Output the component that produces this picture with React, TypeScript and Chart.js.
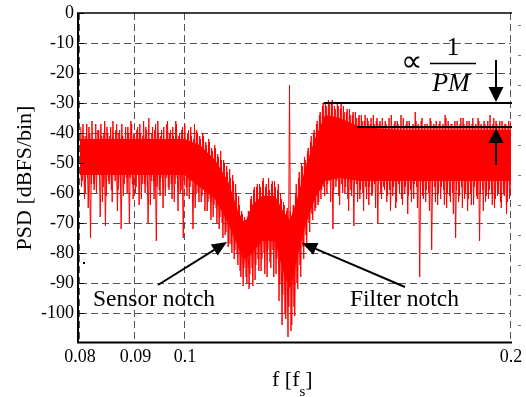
import React, { useEffect, useRef } from "react";
import { Chart, registerables } from "chart.js";

Chart.register(...registerables);

// Axis ranges and ticks
const F_MIN = 0.08;
const F_MAX = 0.2;
const DB_MIN = -110;
const DB_MAX = 0;
const xTicks = [0.08, 0.09, 0.1, 0.2];
const xTickLabels = ["0.08", "0.09", "0.1", "0.2"];
const yTicks = [0, -10, -20, -30, -40, -50, -60, -70, -80, -90, -100];

// Annotation levels
const peakLevel = -30;
const floorLevel = -38;
const peakStartF = 0.1343;
const floorStartF = 0.1441;

// PSD trace A: upper excursions (at bins) and lower excursions (between bins), dBFS/bin
const psdHigh = [
  -40, -37, -41, -38, -36, -42, -39, -37, -40, -38,
  -41, -36, -39, -40, -37, -42, -38, -36, -40, -39,
  -37, -41, -38, -35, -40, -39, -36, -41, -38, -37,
  -40, -38, -36, -41, -39, -37, -40, -38, -42, -39,
  -41, -40, -43, -42, -45, -44, -47, -46, -49, -51,
  -52, -54, -57, -61, -66, -68, -70, -62, -59, -58,
  -57, -56, -58, -55, -57, -56, -59, -60, -63, -66,
  -24, -68, -60, -55, -50, -48, -46, -43, -40, -37,
  -34, -31, -30, -29, -30, -31, -30, -32, -31, -33,
  -32, -34, -33, -35, -34, -36, -35, -37, -34, -36,
  -37, -35, -36, -38, -34, -37, -36, -38, -35, -37,
  -36, -38, -33, -37, -36, -38, -37, -35, -38, -36,
  -37, -38, -34, -36, -37, -38, -36, -37, -35, -38,
  -36, -37, -38, -35, -37, -36, -38, -34, -37, -36,
  -38, -36, -37, -38, -36,
];
const psdLow = [
  -58, -62, -55, -75, -57, -60, -54, -63, -71, -56,
  -59, -53, -66, -58, -61, -55, -70, -57, -60, -54,
  -62, -57, -58, -64, -56, -76, -59, -55, -61, -58,
  -57, -63, -55, -60, -75, -58, -62, -56, -65, -60,
  -63, -59, -66, -62, -68, -65, -72, -70, -74, -78,
  -77, -82, -80, -86, -91, -88, -92, -85, -89, -82,
  -86, -80, -88, -83, -79, -87, -96, -104, -100, -108,
  -106, -98, -90, -84, -78, -74, -70, -67, -66, -64,
  -62, -58, -60, -56, -72, -58, -61, -57, -60, -62,
  -59, -71, -57, -62, -60, -58, -64, -61, -57, -70,
  -60, -58, -63, -59, -61, -65, -57, -62, -60, -67,
  -59, -62, -58, -88, -61, -63, -60, -79, -58, -64,
  -62, -59, -65, -61, -60, -75, -63, -58, -62, -66,
  -60, -64, -61, -76, -59, -63, -62, -60, -65, -61,
  -63, -60, -67, -62,
];

// PSD trace B: the interleaved bins (quarter-bin offset)
const psdHigh2 = [
  -38, -41, -37, -40, -42, -37, -39, -41, -36, -40,
  -38, -42, -37, -39, -41, -38, -40, -37, -41, -38,
  -40, -36, -39, -42, -38, -37, -40, -39, -42, -36,
  -39, -41, -37, -40, -38, -42, -39, -41, -37, -40,
  -42, -41, -44, -43, -46, -45, -48, -49, -50, -53,
  -55, -56, -60, -64, -67, -69, -66, -61, -58, -57,
  -58, -55, -57, -59, -56, -58, -57, -62, -64, -65,
  -66, -64, -57, -53, -51, -49, -45, -41, -39, -36,
  -33, -30, -31, -30, -29, -32, -31, -30, -33, -32,
  -34, -33, -35, -34, -36, -34, -36, -35, -37, -35,
  -36, -38, -37, -35, -38, -36, -37, -34, -38, -36,
  -38, -37, -36, -38, -35, -37, -38, -36, -37, -38,
  -36, -37, -35, -38, -37, -36, -38, -35, -37, -36,
  -38, -35, -37, -36, -38, -37, -36, -38, -35, -37,
  -36, -38, -37, -36,
];
const psdLow2 = [
  -56, -60, -65, -57, -59, -54, -68, -58, -61, -57,
  -63, -56, -59, -72, -57, -60, -55, -62, -58, -64,
  -57, -60, -70, -56, -62, -58, -61, -65, -55, -59,
  -62, -57, -66, -59, -56, -61, -58, -72, -60, -63,
  -61, -66, -63, -69, -64, -70, -68, -75, -73, -77,
  -80, -79, -84, -88, -85, -90, -87, -91, -84, -86,
  -82, -87, -79, -85, -88, -82, -90, -94, -102, -98,
  -104, -101, -92, -88, -82, -77, -73, -69, -65, -63,
  -59, -61, -57, -63, -59, -56, -64, -60, -58, -66,
  -61, -57, -63, -59, -66, -62, -58, -60, -65, -57,
  -62, -59, -61, -66, -58, -63, -60, -64, -58, -61,
  -63, -57, -65, -60, -62, -59, -66, -61, -63, -60,
  -58, -64, -60, -63, -67, -59, -61, -65, -60, -62,
  -64, -58, -62, -60, -66, -61, -59, -64, -62, -60,
  -65, -61, -63, -60,
];

// Dense core of the noise band (where the trace is solid red)
const coreFreq = [
  0.08, 0.089, 0.0999, 0.1032, 0.1066, 0.1096, 0.1119, 0.1136, 0.1153, 0.1178,
  0.1211, 0.1232, 0.125, 0.1269, 0.1291, 0.1318, 0.1347, 0.139, 0.1451, 0.158,
  0.1757, 0.2,
];
const coreTop = [
  -42, -42, -42, -44, -49, -56, -66, -70, -64, -61,
  -61, -66, -69, -62, -52, -42, -34, -35, -38, -39,
  -39, -39,
];
const coreBottom = [
  -54, -54, -54, -58, -62, -70, -78, -82, -80, -76,
  -76, -86, -92, -82, -71, -62, -56, -55, -56, -56,
  -56, -56,
];

const SERIF = '"Liberation Serif", "Times New Roman", serif';
const RED = "#ff0000";

function binFreq(i: number, n: number) {
  return F_MIN * Math.pow(F_MAX / F_MIN, i / (n - 1));
}

function buildTrace(high: number[], low: number[], offset: number, n: number) {
  const pts: { x: number; y: number }[] = [];
  for (let i = 0; i < high.length; i++) {
    pts.push({ x: binFreq(i + offset, n), y: high[i] });
    if (i < low.length) {
      pts.push({ x: binFreq(i + offset + 0.5, n), y: low[i] });
    }
  }
  return pts;
}

function seg(ctx: CanvasRenderingContext2D, x1: number, y1: number, x2: number, y2: number) {
  ctx.beginPath();
  ctx.moveTo(x1, y1);
  ctx.lineTo(x2, y2);
  ctx.stroke();
}

function arrow(ctx: CanvasRenderingContext2D, x1: number, y1: number, x2: number, y2: number, len: number, hw: number) {
  const ang = Math.atan2(y2 - y1, x2 - x1);
  const c = Math.cos(ang);
  const s = Math.sin(ang);
  const bx = x2 - len * c;
  const by = y2 - len * s;
  ctx.lineWidth = 2;
  seg(ctx, x1, y1, bx, by);
  ctx.beginPath();
  ctx.moveTo(x2, y2);
  ctx.lineTo(bx + hw * s, by - hw * c);
  ctx.lineTo(bx - hw * s, by + hw * c);
  ctx.closePath();
  ctx.fill();
}

const overlayPlugin = {
  id: "overlay",
  beforeDatasetsDraw(chart: any) {
    const { ctx, chartArea: a, scales } = chart;
    const x = scales.x;
    const y = scales.y;
    ctx.save();
    ctx.strokeStyle = "#555";
    ctx.lineWidth = 1;
    ctx.setLineDash([7, 4]);
    for (const v of yTicks) {
      if (v === 0) continue;
      const py = Math.round(y.getPixelForValue(v)) + 0.5;
      seg(ctx, a.left, py, a.right, py);
    }
    for (const f of xTicks) {
      const px = Math.round(x.getPixelForValue(f)) - 0.5;
      seg(ctx, px, a.top, px, a.bottom);
    }
    ctx.restore();
  },
  afterDatasetsDraw(chart: any) {
    const { ctx, chartArea: a, scales } = chart;
    const x = scales.x;
    const y = scales.y;
    ctx.save();
    ctx.setLineDash([]);
    ctx.strokeStyle = "#000";
    ctx.fillStyle = "#000";

    // frame: left + bottom axes, top border
    ctx.lineWidth = 2;
    seg(ctx, a.left - 2, a.top, a.left - 2, a.bottom);
    seg(ctx, a.left - 3, a.bottom - 0.5, a.right + 1, a.bottom - 0.5);
    ctx.lineWidth = 1.5;
    seg(ctx, a.left - 3, a.top, a.right + 1, a.top);

    // small ticks
    ctx.lineWidth = 1;
    for (const v of yTicks) {
      const py = Math.round(y.getPixelForValue(v)) + 0.5;
      seg(ctx, a.left - 1, py, a.left + 4, py);
    }
    ctx.strokeStyle = "#777";
    for (const v of yTicks) {
      const py = Math.round(y.getPixelForValue(v - 4)) + 0.5;
      seg(ctx, a.right + 7, py, a.right + 10, py);
    }
    ctx.strokeStyle = "#000";

    // tiny dot artifact
    ctx.fillRect(83, 262, 2, 2);

    // y tick labels
    ctx.font = `18px ${SERIF}`;
    ctx.textAlign = "right";
    ctx.textBaseline = "middle";
    for (const v of yTicks) {
      ctx.fillText(String(v), a.left - 6, y.getPixelForValue(v));
    }
    // x tick labels
    ctx.textAlign = "center";
    xTicks.forEach((f, i) => {
      ctx.fillText(xTickLabels[i], x.getPixelForValue(f), a.bottom + 14);
    });

    // y axis title
    ctx.save();
    ctx.translate(25, 178);
    ctx.rotate(-Math.PI / 2);
    ctx.font = `22px ${SERIF}`;
    ctx.textAlign = "center";
    ctx.textBaseline = "middle";
    ctx.fillText("PSD [dBFS/bin]", 0, 0);
    ctx.restore();

    // x axis title f [f_s]
    ctx.textAlign = "left";
    ctx.textBaseline = "alphabetic";
    ctx.font = `22px ${SERIF}`;
    let tx = 272;
    ctx.fillText("f [f", tx, 386);
    tx += ctx.measureText("f [f").width;
    ctx.font = `15px ${SERIF}`;
    ctx.fillText("s", tx, 396);
    tx += ctx.measureText("s").width;
    ctx.font = `22px ${SERIF}`;
    ctx.fillText("]", tx, 386);

    // level lines
    ctx.lineWidth = 2;
    const pyPeak = y.getPixelForValue(peakLevel);
    const pyFloor = y.getPixelForValue(floorLevel);
    seg(ctx, x.getPixelForValue(peakStartF), pyPeak, a.right + 1, pyPeak);
    seg(ctx, x.getPixelForValue(floorStartF), pyFloor, a.right + 1, pyFloor);

    // arrows to level lines
    const ax = 496;
    arrow(ctx, ax, 60, ax, pyPeak - 1, 15, 7.5);
    arrow(ctx, ax, 165, ax, pyFloor + 1, 15, 7.5);

    // ∝ 1/PM
    ctx.font = `30px ${SERIF}`;
    ctx.textAlign = "center";
    ctx.textBaseline = "middle";
    ctx.fillText("\u221D", 411, 63);
    ctx.font = `26px ${SERIF}`;
    ctx.textBaseline = "alphabetic";
    ctx.fillText("1", 453, 55);
    ctx.lineWidth = 1.5;
    seg(ctx, 430, 63.5, 476, 63.5);
    ctx.font = `italic 26px ${SERIF}`;
    ctx.fillText("PM", 451, 91);

    // notch labels & arrows
    ctx.font = `23.5px ${SERIF}`;
    ctx.textAlign = "left";
    ctx.fillText("Sensor notch", 93, 306);
    ctx.fillText("Filter notch", 350, 306);
    arrow(ctx, 158, 285, 227, 242, 15, 6.5);
    arrow(ctx, 405, 287, 302, 243, 15, 6.5);

    ctx.restore();
  },
};

export default function App() {
  const canvasRef = useRef<HTMLCanvasElement | null>(null);

  useEffect(() => {
    const canvas = canvasRef.current;
    if (!canvas) return;
    const n = psdHigh.length;
    const lineDs = (data: { x: number; y: number }[], order: number) => ({
      data,
      borderColor: RED,
      borderWidth: 1,
      pointRadius: 0,
      tension: 0,
      fill: false,
      order,
    });
    const chart = new Chart(canvas, {
      type: "line",
      data: {
        datasets: [
          lineDs(buildTrace(psdHigh, psdLow, 0, n), 0),
          lineDs(buildTrace(psdHigh2, psdLow2, 0.25, n), 0),
          {
            data: coreFreq.map((f, i) => ({ x: f, y: coreTop[i] })),
            borderColor: RED,
            borderWidth: 0,
            backgroundColor: RED,
            pointRadius: 0,
            tension: 0,
            fill: "+1",
            order: 1,
          },
          {
            data: coreFreq.map((f, i) => ({ x: f, y: coreBottom[i] })),
            borderColor: RED,
            borderWidth: 0,
            backgroundColor: RED,
            pointRadius: 0,
            tension: 0,
            fill: false,
            order: 2,
          },
        ],
      },
      options: {
        responsive: false,
        maintainAspectRatio: false,
        animation: false,
        devicePixelRatio: 1,
        layout: { padding: { left: 80, right: 15, top: 13, bottom: 54 } },
        plugins: { legend: { display: false }, tooltip: { enabled: false } },
        scales: {
          x: { type: "logarithmic", min: F_MIN, max: F_MAX, display: false },
          y: { type: "linear", min: DB_MIN, max: DB_MAX, display: false },
        },
      },
      plugins: [overlayPlugin],
    });
    return () => chart.destroy();
  }, []);

  return (
    <div style={{ position: "fixed", left: 0, top: 0, width: 526, height: 397, background: "#fff" }}>
      <canvas ref={canvasRef} width={526} height={397} style={{ display: "block", width: 526, height: 397 }} />
    </div>
  );
}
